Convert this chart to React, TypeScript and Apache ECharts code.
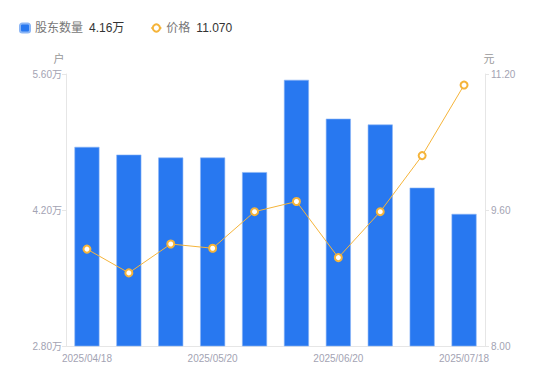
import React, { useEffect, useRef } from "react";
import * as echarts from "echarts";

const categories = [
  "2025/04/18", "2025/04/30", "2025/05/10", "2025/05/20", "2025/05/31",
  "2025/06/10", "2025/06/20", "2025/06/30", "2025/07/10", "2025/07/18",
];
const holders = [4.85, 4.77, 4.74, 4.74, 4.59, 5.54, 5.14, 5.08, 4.43, 4.16];
const prices = [9.14, 8.86, 9.2, 9.15, 9.58, 9.7, 9.04, 9.58, 10.24, 11.07];
const leftTicks = { min: 2.8, max: 5.6, interval: 1.4 };
const rightTicks = { min: 8, max: 11.2, interval: 1.6 };
const latest = { holders: "4.16万", price: "11.070" };

const FONT = "'Liberation Sans', Arial, 'Noto Sans CJK SC', sans-serif";

export default function App() {
  const ref = useRef<HTMLDivElement>(null);
  useEffect(() => {
    document.body.style.margin = "0";
    const chart = echarts.init(ref.current!, undefined, { renderer: "svg" });
    const labelColor = "#a3a3b3";
    chart.setOption({
      animation: false,
      textStyle: { fontFamily: FONT },
      legend: {
        left: 14,
        top: 17,
        itemGap: 26,
        itemWidth: 10,
        itemHeight: 9,
        textStyle: {
          fontFamily: FONT,
          fontSize: 12,
          color: "#777",
          rich: {
            n: { color: "#777", fontSize: 12, fontFamily: FONT },
            v: { color: "#333", fontSize: 12, fontFamily: FONT, padding: [0, 0, 0, 6] },
          },
        },
        formatter: (name: string) =>
          name === "股东数量"
            ? `{n|${name}}{v|${latest.holders}}`
            : `{n|${name}}{v|${latest.price}}`,
        data: [
          { name: "股东数量", icon: "roundRect", itemStyle: { color: "#2878f0" } },
          { name: "价格" },
        ],
      },
      grid: { left: 66, right: 65, top: 74, bottom: 35 },
      xAxis: {
        type: "category",
        data: categories,
        axisLine: { lineStyle: { color: "#e6e6e6" } },
        axisTick: { show: false },
        axisLabel: {
          color: labelColor,
          fontSize: 10,
          interval: 2,
          margin: 7,
          fontFamily: FONT,
        },
      },
      yAxis: [
        {
          type: "value",
          name: "户",
          nameGap: 10,
          nameTextStyle: { color: "#999", fontSize: 11, fontFamily: FONT, padding: [0, 14, 0, 0] },
          min: leftTicks.min,
          max: leftTicks.max,
          interval: leftTicks.interval,
          splitLine: { show: false },
          axisLine: { show: true, lineStyle: { color: "#e6e6e6" } },
          axisTick: { show: true, length: 4, lineStyle: { color: "#e6e6e6" } },
          axisLabel: {
            color: labelColor,
            fontSize: 10,
            margin: 4,
            fontFamily: FONT,
            formatter: (v: number) => v.toFixed(2) + "万",
          },
        },
        {
          type: "value",
          name: "元",
          nameGap: 10,
          nameTextStyle: { color: "#999", fontSize: 11, fontFamily: FONT, padding: [0, 0, 0, 8] },
          min: rightTicks.min,
          max: rightTicks.max,
          interval: rightTicks.interval,
          splitLine: { show: false },
          axisLine: { show: true, lineStyle: { color: "#e6e6e6" } },
          axisTick: { show: true, length: 4, lineStyle: { color: "#e6e6e6" } },
          axisLabel: {
            color: labelColor,
            fontSize: 10,
            margin: 6,
            fontFamily: FONT,
            formatter: (v: number) => v.toFixed(2),
          },
        },
      ],
      series: [
        {
          name: "股东数量",
          type: "bar",
          yAxisIndex: 0,
          data: holders,
          barWidth: 25,
          itemStyle: { color: "#2878f0", borderColor: "#8cb6f5", borderWidth: 0.6 },
        },
        {
          name: "价格",
          type: "line",
          yAxisIndex: 1,
          data: prices,
          symbol: "circle",
          symbolSize: 7,
          lineStyle: { color: "#f5b43a", width: 1 },
          itemStyle: { color: "#fff", borderColor: "#f5b43a", borderWidth: 2 },
        },
      ],
    });
    return () => chart.dispose();
  }, []);
  return <div ref={ref} style={{ width: 550, height: 381 }} />;
}
